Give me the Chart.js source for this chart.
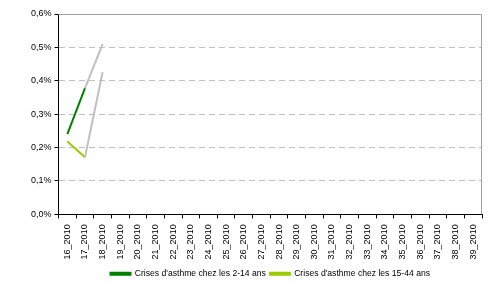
<!DOCTYPE html>
<html>
<head>
<meta charset="utf-8">
<script src="https://cdn.jsdelivr.net/npm/chart.js@4/dist/chart.umd.min.js"></script>
<style>
  html, body { margin: 0; padding: 0; background: #fff; }
  #wrap { width: 491px; height: 285px; }
</style>
</head>
<body>
<div id="wrap"><canvas id="c"></canvas></div>
<script>
const weeks = ['16_2010', '17_2010', '18_2010', '19_2010', '20_2010', '21_2010', '22_2010', '23_2010',
  '24_2010', '25_2010', '26_2010', '27_2010', '28_2010', '29_2010', '30_2010', '31_2010',
  '32_2010', '33_2010', '34_2010', '35_2010', '36_2010', '37_2010', '38_2010', '39_2010'];
const crises2to14 = [0.24, 0.378, 0.51];
const crises15to44 = [0.218, 0.171, 0.426];
const yTicks = [0, 0.1, 0.2, 0.3, 0.4, 0.5, 0.6];

// last week is incomplete: drawn in grey
const greySegment = ctx => ctx.p0DataIndex === 1 ? '#c0c0c0' : undefined;

const frame = {
  id: 'frame',
  afterDraw(chart) {
    const a = chart.chartArea, g = chart.ctx;
    g.save();
    g.strokeStyle = '#a0a0a0';
    g.lineWidth = 1;
    g.beginPath();
    g.moveTo(a.left, a.top + 0.5);
    g.lineTo(a.right - 0.5, a.top + 0.5);
    g.lineTo(a.right - 0.5, a.bottom);
    g.stroke();
    g.restore();
  }
};

const tickFont = { family: 'Liberation Sans, Arial', size: 9 };

new Chart(document.getElementById('c'), {
  type: 'line',
  data: {
    labels: weeks,
    datasets: [
      {
        label: "Crises d'asthme chez les 2-14 ans",
        data: crises2to14,
        borderColor: '#008000',
        backgroundColor: '#008000',
        borderWidth: 2,
        pointRadius: 0,
        segment: { borderColor: greySegment }
      },
      {
        label: "Crises d'asthme chez les 15-44 ans",
        data: crises15to44,
        borderColor: '#99cc00',
        backgroundColor: '#99cc00',
        borderWidth: 2,
        pointRadius: 0,
        segment: { borderColor: greySegment }
      }
    ]
  },
  options: {
    responsive: true,
    maintainAspectRatio: false,
    animation: false,
    layout: { padding: { top: 14, right: 9, left: 28, bottom: -3 } },
    scales: {
      x: {
        offset: true,
        grid: { offset: true, drawOnChartArea: false, drawTicks: true, tickLength: 4, tickColor: '#000' },
        border: { color: '#000', width: 1 },
        ticks: {
          color: '#000', font: tickFont,
          minRotation: 90, maxRotation: 90, autoSkip: false, padding: 6
        }
      },
      y: {
        min: 0, max: 0.6,
        afterBuildTicks: axis => { axis.ticks = yTicks.map(v => ({ value: v })); },
        grid: {
          color: c => (c.tick && (c.tick.value === 0 || c.tick.value === 0.6)) ? 'rgba(0,0,0,0)' : '#c0c0c0',
          tickColor: '#000', tickLength: 4, tickBorderDash: [],
          drawTicks: true
        },
        border: { color: '#000', width: 1, dash: [6, 4] },
        ticks: {
          color: '#000', font: tickFont, padding: 3,
          callback: v => v.toFixed(1).replace('.', ',') + '%'
        }
      }
    },
    plugins: {
      legend: {
        position: 'bottom',
        fullSize: false,
        labels: {
          color: '#000', font: { family: 'Liberation Sans, Arial', size: 8.6 },
          boxWidth: 20, boxHeight: 2, padding: 4
        }
      },
      tooltip: { enabled: false }
    }
  },
  plugins: [frame]
});
</script>
</body>
</html>
